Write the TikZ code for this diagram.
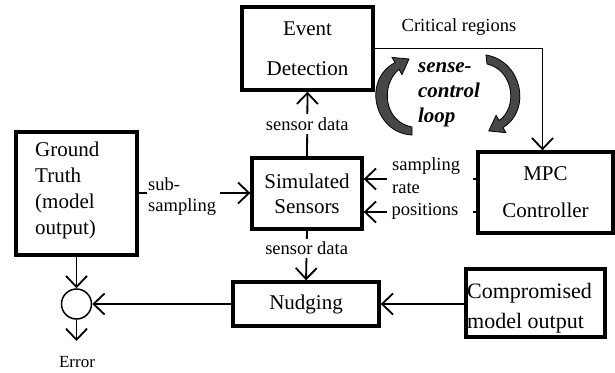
\documentclass[tikz,border=0pt]{standalone}
\usepackage{fontspec}
\setmainfont{Liberation Serif}
\usetikzlibrary{arrows.meta}
\begin{document}
\begin{tikzpicture}[x=1pt,y=-1pt,
 box/.style={draw, line width=3.4pt, inner sep=0pt},
 smalltxt/.style={font=\fontsize{18.5}{22}\selectfont, inner sep=0pt},
 lab/.style={smalltxt, fill=white, inner xsep=1pt, inner ysep=3pt},
 arr/.style={line width=1.8pt, -{Straight Barb[length=11pt,width=21pt]}},
 plain/.style={line width=1.8pt},
 loopar/.style={fill=black!72, draw=black, line width=0.8pt}]
\useasboundingbox (0,0) rectangle (615,372);

% boxes
\node[box, minimum width=131pt, minimum height=83pt, align=center,
      font=\fontsize{21}{40}\selectfont] (ev) at (307.5,48.5) {Event\\Detection};
\node[box, minimum width=135pt, minimum height=81pt, align=center,
      font=\fontsize{21}{37}\selectfont] (mpc) at (545.5,192.5) {MPC\\Controller};
\node[box, minimum width=121pt, minimum height=123pt] (gt) at (76.5,193.5) {};
\node[anchor=west, align=left, inner sep=0pt, font=\fontsize{21}{26}\selectfont]
      (gttext) at (35,190) {Ground\\Truth\\(model\\output)};
\node[box, minimum width=110pt, minimum height=71pt, align=center,
      font=\fontsize{21}{25}\selectfont] (sim) at (307,193.5) {Simulated\\Sensors};
\node[box, minimum width=146pt, minimum height=44pt,
      font=\fontsize{21}{25}\selectfont] (nud) at (306,304) {Nudging};
\node[box, minimum width=139pt, minimum height=68pt] (comp) at (535.5,303) {};
\node[anchor=west, align=left, inner sep=0pt, font=\fontsize{22}{30}\selectfont]
      (comptext) at (467,308) {Compromised\\model output};
\node[circle, draw, line width=1.5pt, minimum size=30pt, inner sep=0pt] (sum) at (76.5,304) {};

% critical regions
\draw[arr] (ev.east) -| ([xshift=-3pt]mpc.north);
\node[smalltxt] (crit) at (459,27) {Critical regions};

% sensor data (up)
\draw[arr] (sim.north) -- node[lab] (sd1) {sensor data} (ev.south);
% sensor data (down)
\draw[arr] (sim.south) -- node[lab, pos=0.36] (sd2) {sensor data} (nud.north);

% sampling rate / positions
\coordinate (srA) at (473,179);
\coordinate (srB) at (387,179);
\draw[plain] (mpc.west |- srA) -- (srA);
\draw[arr] (srB) -- (sim.east |- srB);
\node[smalltxt, anchor=west, align=left, font=\fontsize{18.5}{23}\selectfont]
      (srtext) at (392,176) {sampling\\rate};
\coordinate (poA) at (473,212);
\coordinate (poB) at (387,212);
\draw[plain] (mpc.west |- poA) -- (poA);
\draw[arr] (poB) -- (sim.east |- poB);
\node[smalltxt] (potext) at (425,211) {positions};

% sub-sampling
\coordinate (ssA) at (147,193);
\coordinate (ssB) at (220,193);
\draw[plain] (gt.east |- ssA) -- (ssA);
\draw[arr] (ssB) -- (sim.west |- ssB);
\node[smalltxt, anchor=west, align=left, font=\fontsize{18.5}{21}\selectfont]
      (sstext) at (148,197) {sub-\\sampling};

% nudging / error
\draw[arr] (comp.west |- nud.east) -- (nud.east);
\draw[arr] (nud.west) -- (sum.east);
\draw[arr] (gt.south) -- (sum.north);
\coordinate (errtip) at (76.5,341);
\draw[arr] (sum.south) -- (errtip);
\node[font=\fontsize{17}{20}\selectfont, inner sep=0pt] (err) at (77,362) {Error};

% sense-control loop
\node[anchor=center, align=left, inner sep=0pt, font=\fontsize{21}{25}\selectfont\bfseries\itshape]
      (loop) at (449,95) {sense-\\control\\loop};
\path[loopar] (412,135) .. controls (374,133) and (362,80) .. (395,62.6)
   -- (392,57.4) -- (409,59) -- (402,74.6) -- (399,69.4)
   .. controls (380,85) and (384,122) .. (412,127) -- cycle;
\path[loopar] (486,55) .. controls (522,61) and (532,110) .. (503,127.5)
   -- (505.9,132.7) -- (488.8,130.9) -- (496.1,115.3) -- (499,120.5)
   .. controls (518,108) and (514,70) .. (487,64) -- cycle;
\end{tikzpicture}
\end{document}
